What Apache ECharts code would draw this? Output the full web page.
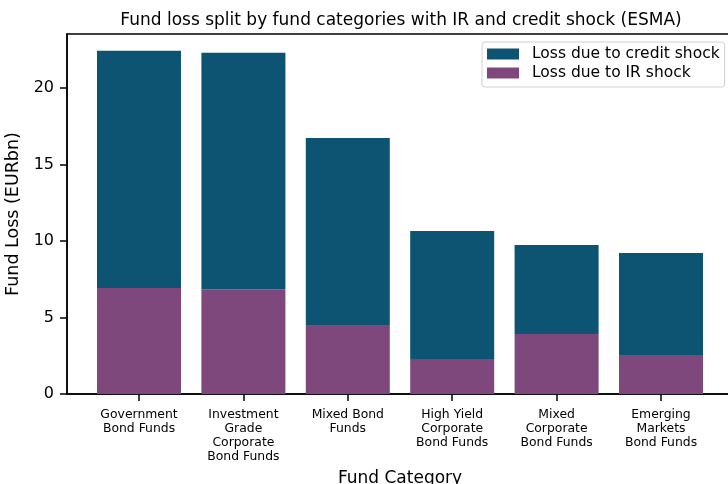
<!DOCTYPE html>
<html>
<head>
<meta charset="utf-8">
<script src="https://cdn.jsdelivr.net/npm/echarts@6/dist/echarts.min.js"></script>
<style>
  html, body { margin: 0; padding: 0; background: #fff; }
  #chart { width: 728px; height: 484px; }
</style>
</head>
<body>
<div id="chart"></div>
<script>
// Fund categories (x axis)
const categories = [
  'Government\nBond Funds',
  'Investment\nGrade\nCorporate\nBond Funds',
  'Mixed Bond\nFunds',
  'High Yield\nCorporate\nBond Funds',
  'Mixed\nCorporate\nBond Funds',
  'Emerging\nMarkets\nBond Funds'
];
// Loss from the interest-rate shock (EUR bn), bottom segment
const irLoss = [6.93, 6.85, 4.51, 2.29, 3.92, 2.55];
// Loss from the credit shock (EUR bn), stacked on top
const creditLoss = [15.49, 15.45, 12.22, 8.36, 5.82, 6.67];
// Y tick values
const yTicks = [0, 5, 10, 15, 20];

const FONT = 'DejaVu Sans';
const Y_MAX = 23.52;
const chart = echarts.init(document.getElementById('chart'), null, { renderer: 'canvas' });

chart.setOption({
  animation: false,
  backgroundColor: '#ffffff',
  title: {
    text: 'Fund loss split by fund categories with IR and credit shock (ESMA)',
    left: 396,
    textAlign: 'center',
    top: 7,
    textStyle: { fontFamily: FONT, fontSize: 17, fontWeight: 'normal', color: '#000' }
  },
  legend: {
    orient: 'vertical',
    left: 482,
    top: 42,
    padding: [4, 5, 6, 5],
    icon: 'rect',
    itemWidth: 32,
    itemHeight: 11,
    itemGap: 3,
    backgroundColor: '#fff',
    borderColor: '#d0d0d0',
    borderWidth: 1,
    borderRadius: 3,
    textStyle: { fontFamily: FONT, fontSize: 15.5, color: '#000', padding: [0, 0, 0, 8] },
    data: ['Loss due to credit shock', 'Loss due to IR shock']
  },
  grid: [
    // frame with the y axis
    { left: 67, top: 34, width: 666, height: 360, show: true, outerBoundsMode: 'none', containLabel: false,
      borderColor: '#000', borderWidth: 1.5, backgroundColor: 'transparent' },
    // bar area with one slot per category
    { left: 86.8, top: 34, width: 626.4, height: 360, outerBoundsMode: 'none', containLabel: false }
  ],
  xAxis: [
    {
      gridIndex: 0,
      type: 'value',
      min: 0,
      max: 1,
      axisLine: { show: true, onZero: false, lineStyle: { color: '#000', width: 1.5 } },
      axisTick: { show: false },
      axisLabel: { show: false },
      splitLine: { show: false }
    },
    {
      gridIndex: 1,
      type: 'category',
      data: categories,
      name: 'Fund Category',
      nameLocation: 'middle',
      nameGap: 76,
      nameTextStyle: { fontFamily: FONT, fontSize: 17, color: '#000' },
      axisLine: { show: false },
      axisTick: { show: true, alignWithLabel: true, length: 7, lineStyle: { color: '#000', width: 1.5 } },
      axisLabel: { fontFamily: FONT, fontSize: 12.4, color: '#000', lineHeight: 14, margin: 14, interval: 0 },
      splitLine: { show: false }
    }
  ],
  yAxis: [
    {
      gridIndex: 0,
      type: 'value',
      min: 0,
      max: Y_MAX,
      name: 'Fund Loss (EURbn)',
      nameLocation: 'middle',
      nameGap: 39,
      nameTextStyle: { fontFamily: FONT, fontSize: 17.5, color: '#000' },
      axisLine: { show: true, onZero: false, lineStyle: { color: '#000', width: 1.5 } },
      axisTick: { show: true, length: 7, lineStyle: { color: '#000', width: 1.5 }, customValues: yTicks },
      axisLabel: { customValues: yTicks, fontFamily: FONT, fontSize: 16, color: '#000', margin: 13 },
      splitLine: { show: false }
    },
    {
      gridIndex: 1,
      type: 'value',
      min: 0,
      max: Y_MAX,
      show: false,
      splitLine: { show: false }
    }
  ],
  series: [
    {
      name: 'Loss due to IR shock',
      type: 'bar',
      xAxisIndex: 1,
      yAxisIndex: 1,
      stack: 'loss',
      barWidth: 84,
      itemStyle: { color: '#7e487d' },
      data: irLoss
    },
    {
      name: 'Loss due to credit shock',
      type: 'bar',
      xAxisIndex: 1,
      yAxisIndex: 1,
      stack: 'loss',
      barWidth: 84,
      itemStyle: { color: '#0c5471' },
      data: creditLoss
    }
  ]
});
</script>
</body>
</html>
